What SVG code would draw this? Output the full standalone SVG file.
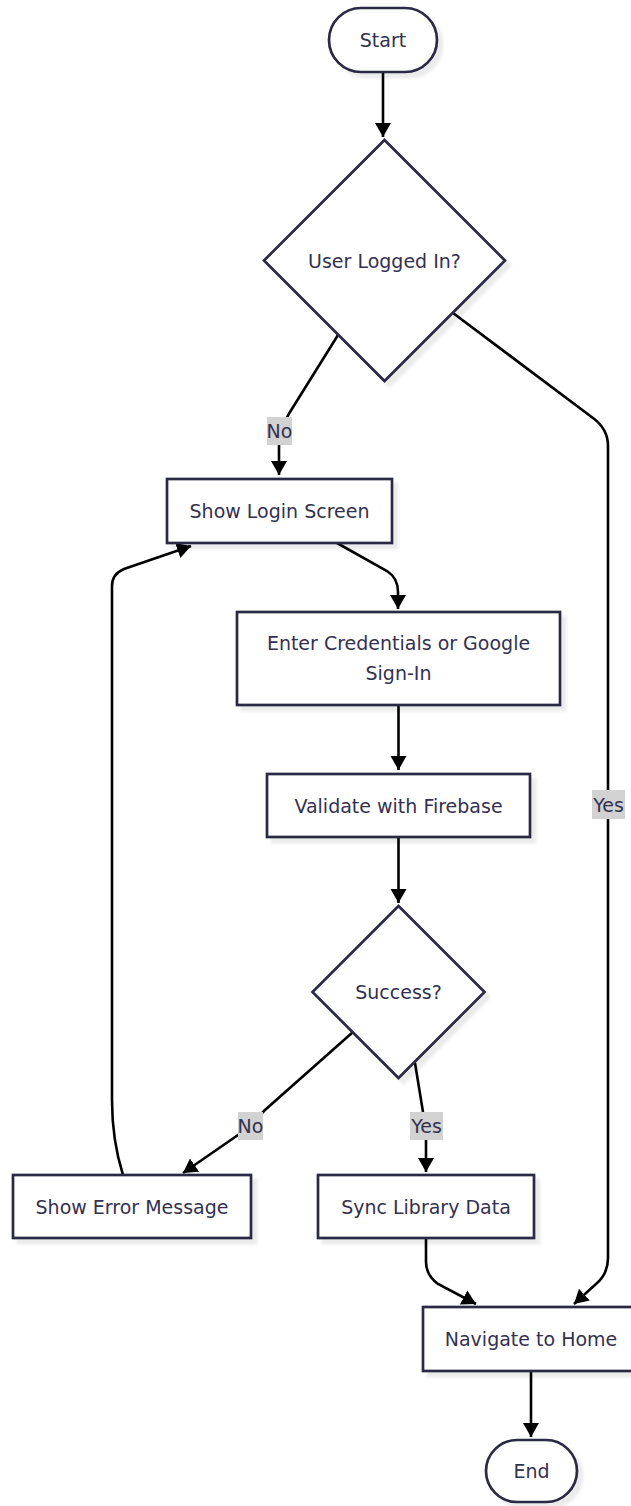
<svg xmlns="http://www.w3.org/2000/svg" width="631" height="1506" viewBox="0 0 631 1506">
  <style>
    .node { fill: #ffffff; stroke: #2b2944; stroke-width: 2.7; filter: url(#shadow); }
    .label { font-family: "DejaVu Sans", "Noto Sans", sans-serif; font-size: 19px; fill: #333150; text-anchor: middle; dominant-baseline: central; }
    .edge { fill: none; stroke: #000000; stroke-width: 2.6; marker-end: url(#arrow); }
    .edge-label-bg { fill: #d2d2d2; }
  </style>
  <defs>
    <filter id="shadow" x="-10%" y="-10%" width="130%" height="130%">
      <feDropShadow dx="5" dy="5" stdDeviation="1.5" flood-color="#000000" flood-opacity="0.08"/>
    </filter>
    <marker id="arrow" markerUnits="userSpaceOnUse" markerWidth="18" markerHeight="18" refX="14" refY="8" orient="auto">
      <path d="M0,0 L14,8 L0,16 z" fill="#000000"/>
    </marker>
  </defs>

  <!-- connectors -->
  <g id="connectors">
    <path class="edge" d="M383,72 L383,137"/>
    <path class="edge" d="M338,335 L290,412 Q279,430 279,446 L279,475"/>
    <path class="edge" d="M453,313 L593,418 Q608,429 608,446 L608,1258 Q608,1274 596,1284 L574,1304"/>
    <path class="edge" d="M337,543 L387,571 Q398,578 398,592 L398,609"/>
    <path class="edge" d="M398.5,705 L398.5,770"/>
    <path class="edge" d="M398.5,837 L398.5,903"/>
    <path class="edge" d="M415,1063 L423,1112 Q426,1125 426,1140 L426,1172"/>
    <path class="edge" d="M353,1032 L265,1110 Q252,1124 238,1135 L183,1173"/>
    <path class="edge" d="M123,1175 Q112,1140 112,1100 L112,586 Q112,574 124,569 L191,546"/>
    <path class="edge" d="M426,1238 L426,1262 Q426,1275 438,1284 L476,1304"/>
    <path class="edge" d="M531,1371 L531,1437"/>

    <!-- edge labels -->
    <g>
      <rect class="edge-label-bg" x="267" y="417" width="25" height="28"/>
      <text class="label" x="279.5" y="431">No</text>
    </g>
    <g>
      <rect class="edge-label-bg" x="592" y="790" width="33" height="29"/>
      <text class="label" x="608.5" y="805">Yes</text>
    </g>
    <g>
      <rect class="edge-label-bg" x="410" y="1112" width="33" height="28"/>
      <text class="label" x="426.5" y="1126">Yes</text>
    </g>
    <g>
      <rect class="edge-label-bg" x="238" y="1112" width="25" height="28"/>
      <text class="label" x="250.5" y="1126">No</text>
    </g>
  </g>

  <!-- nodes -->
  <g id="start">
    <rect class="node" x="329" y="8" width="108" height="64" rx="32" ry="32"/>
    <text class="label" x="383" y="40">Start</text>
  </g>
  <g id="userLoggedIn">
    <polygon class="node" points="384.5,140 505,260.5 384.5,381 264,260.5"/>
    <text class="label" x="384.5" y="261">User Logged In?</text>
  </g>
  <g id="showLogin">
    <rect class="node" x="167" y="479" width="225" height="64"/>
    <text class="label" x="279.5" y="511">Show Login Screen</text>
  </g>
  <g id="enterCredentials">
    <rect class="node" x="237" y="612" width="323" height="93"/>
    <text class="label" x="398.5" y="643">Enter Credentials or Google</text>
    <text class="label" x="398.5" y="673">Sign-In</text>
  </g>
  <g id="validate">
    <rect class="node" x="267" y="774" width="263" height="63"/>
    <text class="label" x="398.5" y="805.5">Validate with Firebase</text>
  </g>
  <g id="success">
    <polygon class="node" points="398.5,906 484.5,992 398.5,1078 312.5,992"/>
    <text class="label" x="398.5" y="992">Success?</text>
  </g>
  <g id="showError">
    <rect class="node" x="13" y="1175" width="238" height="63"/>
    <text class="label" x="132" y="1206.5">Show Error Message</text>
  </g>
  <g id="syncLibrary">
    <rect class="node" x="318" y="1175" width="216" height="63"/>
    <text class="label" x="426" y="1206.5">Sync Library Data</text>
  </g>
  <g id="navigateHome">
    <rect class="node" x="423" y="1307" width="216" height="64"/>
    <text class="label" x="531" y="1339">Navigate to Home</text>
  </g>
  <g id="end">
    <rect class="node" x="486" y="1440" width="91" height="62" rx="31" ry="31"/>
    <text class="label" x="531.5" y="1471">End</text>
  </g>
</svg>
